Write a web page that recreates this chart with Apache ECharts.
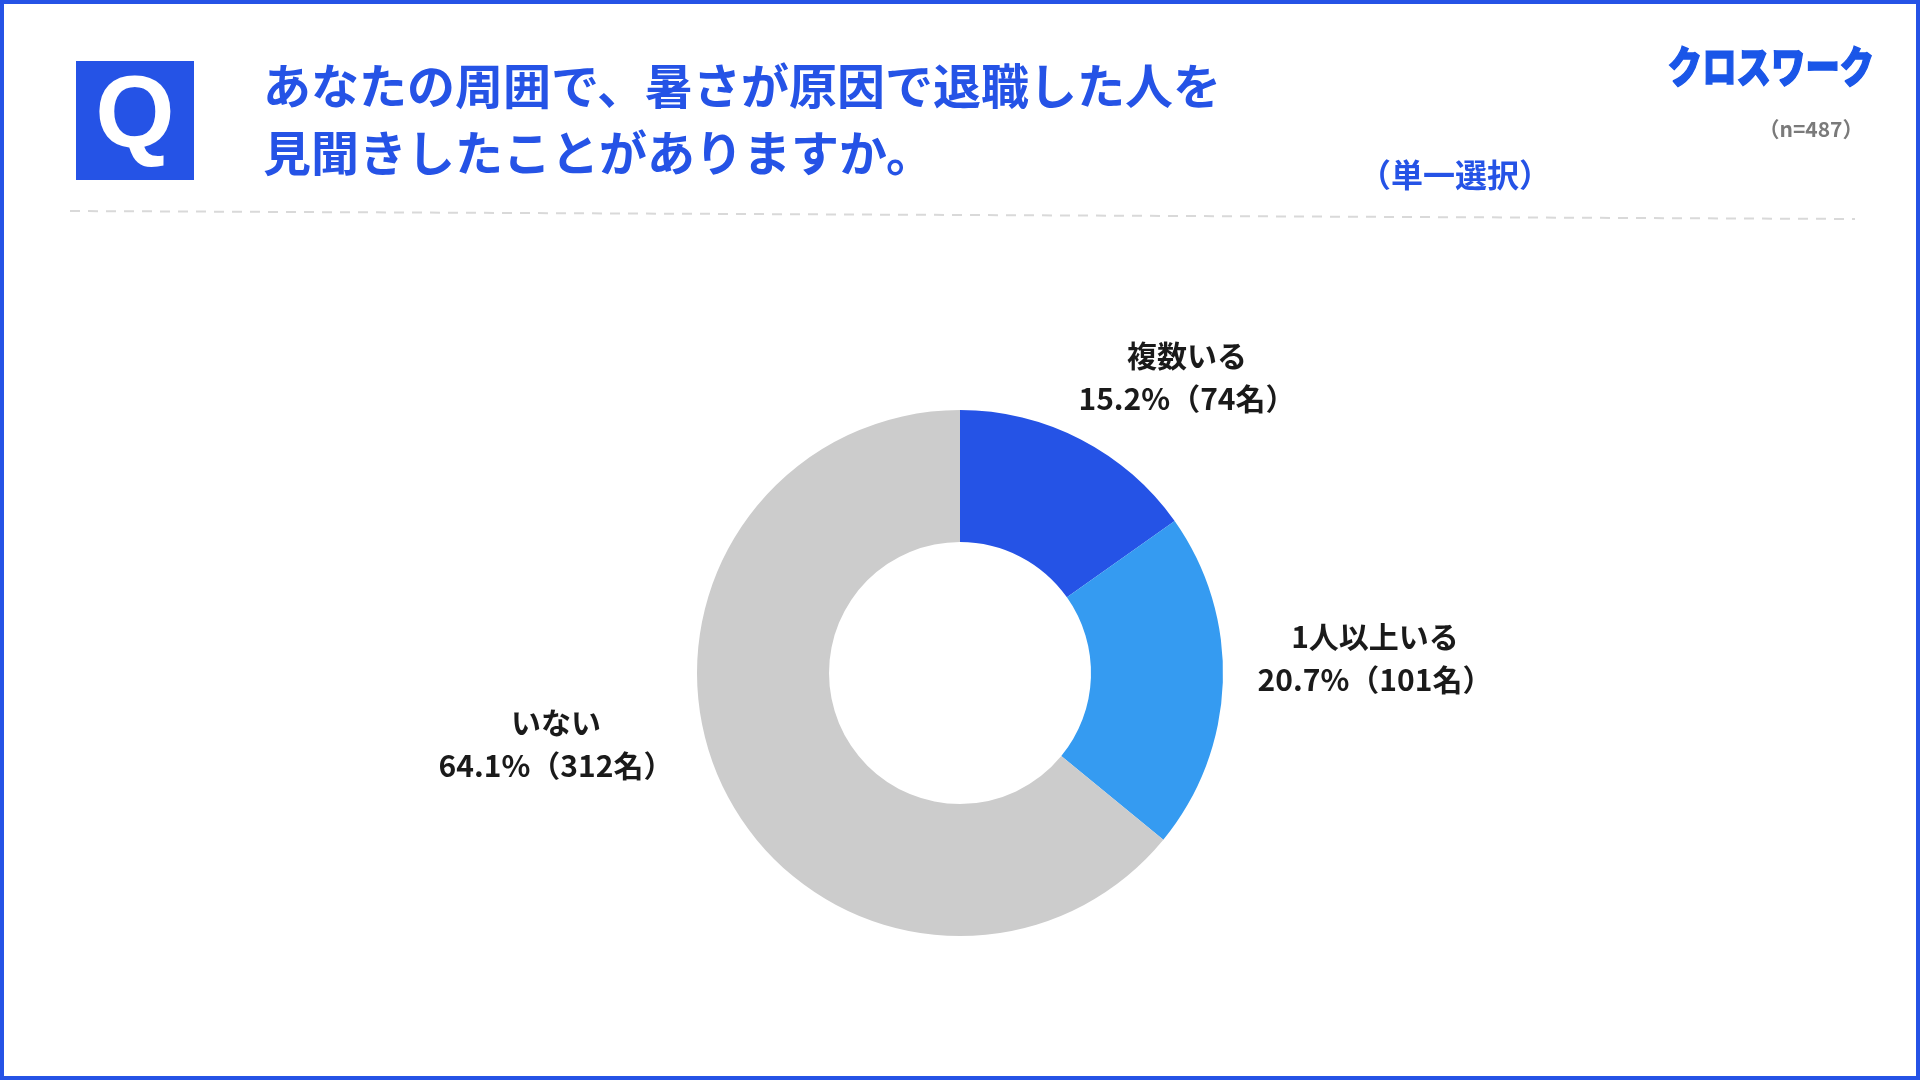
<!DOCTYPE html>
<html>
<head>
    <meta charset="utf-8">
    <title>暑さが原因で退職した人</title>
    <script src="https://cdn.jsdelivr.net/npm/echarts@6/dist/echarts.min.js"></script>
    <style>
        html, body { margin: 0; padding: 0; background: #fff; }
    </style>
</head>
<body>
<div id="main" style="width: 1920px;height:1080px;"></div>
<script type="text/javascript">
    // 回答データ（n=487）
    var answerNames = ['複数いる', '1人以上いる', 'いない'];
    var answerCounts = [74, 101, 312];
    var answerColors = ['#2553e6', '#359bf1', '#cccccc'];

    // ラベルの置き場所（px）
    var labelPos = [[1187, 377], [1375, 658], [556, 744]];

    var FONT = '"Noto Sans CJK JP", "Noto Sans", sans-serif';
    var BLUE = '#2553e6';

    var myChart = echarts.init(document.getElementById('main'));

    var option = {
        backgroundColor: '#ffffff',
        animation: false,
        graphic: [
            // 外枠
            {
                type: 'rect',
                shape: { x: 2, y: 2, width: 1916, height: 1076 },
                style: { fill: 'none', stroke: BLUE, lineWidth: 4 }
            },
            // Q
            {
                type: 'rect',
                shape: { x: 76, y: 61, width: 118, height: 119 },
                style: { fill: BLUE }
            },
            {
                type: 'text',
                x: 135, y: 119,
                style: {
                    text: 'Q', fill: '#fff', font: 'bold 102px "Liberation Sans", Arial, sans-serif',
                    textAlign: 'center', textVerticalAlign: 'middle'
                }
            },
            // 設問
            {
                type: 'text',
                x: 263, y: 86,
                style: {
                    text: 'あなたの周囲で、暑さが原因で退職した人を', fill: BLUE,
                    font: 'bold 48px ' + FONT, textVerticalAlign: 'middle'
                }
            },
            {
                type: 'text',
                x: 263, y: 153,
                style: {
                    text: '見聞きしたことがありますか。', fill: BLUE,
                    font: 'bold 48px ' + FONT, textVerticalAlign: 'middle'
                }
            },
            {
                type: 'text',
                x: 1455, y: 175,
                style: {
                    text: '（単一選択）', fill: BLUE,
                    font: 'bold 32px ' + FONT, textAlign: 'center', textVerticalAlign: 'middle'
                }
            },
            // ロゴ
            {
                type: 'text',
                x: 1771, y: 67,
                scaleX: 0.8,
                style: {
                    text: 'クロスワーク', fill: '#1a56e8',
                    font: '900 43px ' + FONT, textAlign: 'center', textVerticalAlign: 'middle',
                    stroke: '#1a56e8', lineWidth: 1.5
                }
            },
            {
                type: 'text',
                x: 1811, y: 129,
                style: {
                    text: '（n=487）', fill: '#7a7a7a',
                    font: 'bold 21px ' + FONT, textAlign: 'center', textVerticalAlign: 'middle'
                }
            },
            // 区切り線
            {
                type: 'line',
                shape: { x1: 70, y1: 211, x2: 1855, y2: 219 },
                style: { stroke: '#d9d9d9', lineWidth: 2, lineDash: [10, 8] }
            }
        ],
        series: [{
            type: 'pie',
            center: [960, 673],
            radius: [131, 263],
            startAngle: 90,
            clockwise: true,
            percentPrecision: 1,
            silent: true,
            label: {
                show: true,
                position: 'outside',
                formatter: '{b}\n{d}%（{c}名）',
                color: '#1a1a1a',
                fontFamily: FONT,
                fontWeight: 'bold',
                fontSize: 30,
                lineHeight: 43,
                align: 'center'
            },
            labelLine: { show: false },
            labelLayout: function (params) {
                var p = labelPos[params.dataIndex];
                return { x: p[0], y: p[1], align: 'center', verticalAlign: 'middle' };
            },
            data: answerNames.map(function (name, i) {
                return {
                    name: name,
                    value: answerCounts[i],
                    itemStyle: { color: answerColors[i] }
                };
            })
        }]
    };

    myChart.setOption(option);
</script>
</body>
</html>
